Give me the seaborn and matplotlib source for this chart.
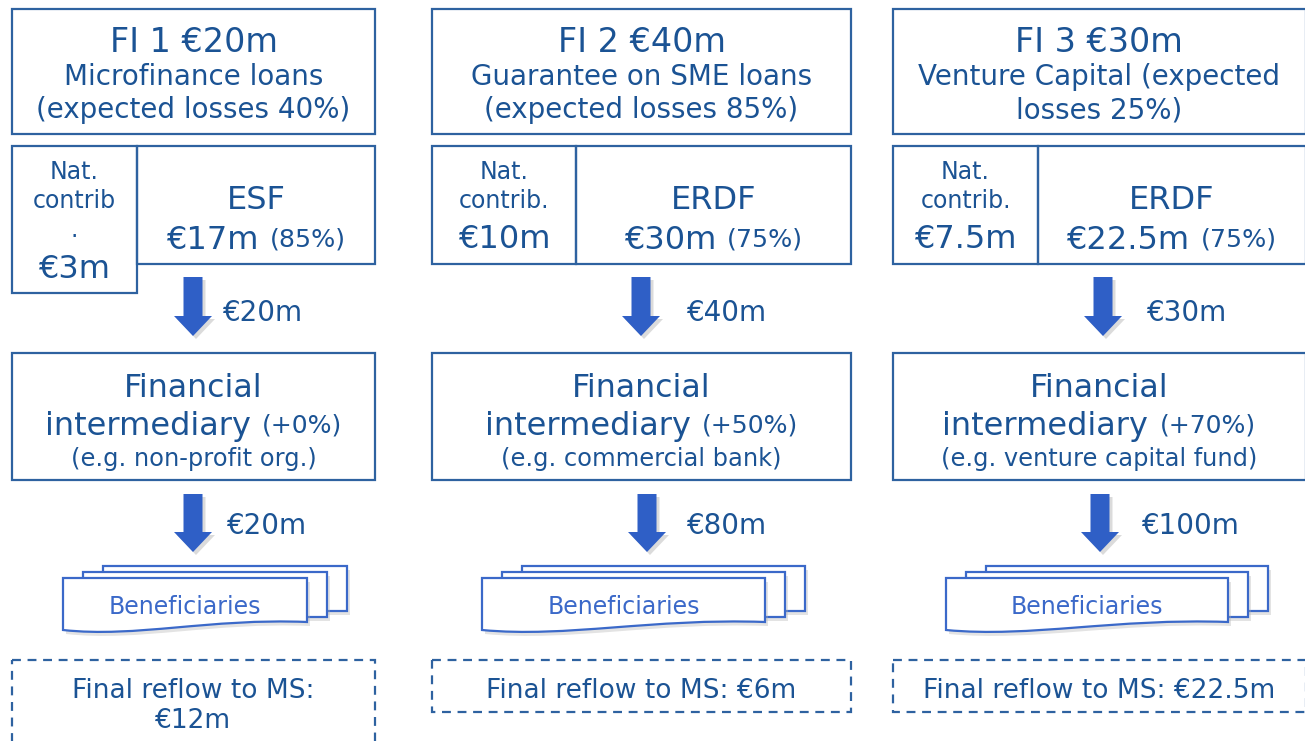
import numpy as np
import seaborn as sns
import matplotlib.pyplot as plt
from matplotlib.patches import Rectangle, FancyArrow, PathPatch
from matplotlib.path import Path

# content of the three columns
fi_titles = ['FI 1 €20m', 'FI 2 €40m', 'FI 3 €30m']
fi_types = ['Microfinance loans\n(expected losses 40%)',
            'Guarantee on SME loans\n(expected losses 85%)',
            'Venture Capital (expected\nlosses 25%)']
nat_labels = [['Nat.', 'contrib', '.'], ['Nat.', 'contrib.'], ['Nat.', 'contrib.']]
nat_amounts = ['€3m', '€10m', '€7.5m']
fund_names = ['ESF', 'ERDF', 'ERDF']
fund_amounts = ['€17m', '€30m', '€22.5m']
fund_shares = ['(85%)', '(75%)', '(75%)']
flow_to_fi = ['€20m', '€40m', '€30m']
fi_leverage = ['(+0%)', '(+50%)', '(+70%)']
fi_examples = ['(e.g. non-profit org.)', '(e.g. commercial bank)', '(e.g. venture capital fund)']
flow_to_benef = ['€20m', '€80m', '€100m']
reflow = [['Final reflow to MS:', '€12m'], ['Final reflow to MS: €6m'], ['Final reflow to MS: €22.5m']]

# layout (pixels)
col_left = [12, 432, 893]
col_right = [375, 851, 1306]
nat_split = [137, 576, 1038]
arrow1_x = [193, 641, 1103]
arrow2_x = [193, 647, 1100]
label1_x = [223, 687, 1147]
label2_x = [227, 687, 1142]
benef_left = [63, 482, 946]
benef_w = [244, 283, 282]
reflow_bottom = [745, 712, 712]

TXT = '#1b5394'
EDGE = '#2e62a0'
ARROW = '#2f5fc6'
BEN = '#3b69c9'

sns.set_theme(style='white')
plt.rcParams['font.family'] = ['DejaVu Sans']

fig = plt.figure(figsize=(13.05, 7.41), dpi=100)
ax = fig.add_axes([0, 0, 1, 1])
ax.set_xlim(0, 1305)
ax.set_ylim(741, 0)
ax.axis('off')


def line(x, yc, s, size, color=TXT, ha='center'):
    # place text so that the capitals are centred on yc
    return ax.text(x, yc + 0.365 * size * 1.389, s, size=size, color=color,
                   ha=ha, va='baseline')


def box(x0, y0, x1, y1, ls='-'):
    ax.add_patch(Rectangle((x0, y0), x1 - x0, y1 - y0, fill=False, ec=EDGE,
                           lw=1.6, ls=ls))


fig.canvas.draw()
renderer = fig.canvas.get_renderer()


def pair(xc, yc, a, sa, b, sb, gap=11):
    t1 = line(0, yc, a, sa, ha='left')
    t2 = line(0, yc, b, sb, ha='left')
    w1 = t1.get_window_extent(renderer).width
    w2 = t2.get_window_extent(renderer).width
    x0 = xc - (w1 + gap + w2) / 2
    t1.set_x(x0)
    t2.set_x(x0 + w1 + gap)


def arrow(x, y0, y1):
    for dx, dy, c, a in [(3, 3, '#9a9a9a', 0.35), (0, 0, ARROW, 1)]:
        ax.add_patch(FancyArrow(x + dx, y0 + dy, 0, y1 - y0, width=19, head_width=38,
                                head_length=20, length_includes_head=True,
                                fc=c, ec='none', alpha=a))


def sheet(x0, yt, w, h, wavy=False):
    x1 = x0 + w
    if wavy:
        verts = [(x0, yt), (x1, yt), (x1, yt + h - 10),
                 (x0 + 0.6 * w, yt + h - 14), (x0 + 0.3 * w, yt + h + 6), (x0, yt + h - 2),
                 (x0, yt)]
        codes = [Path.MOVETO, Path.LINETO, Path.LINETO,
                 Path.CURVE4, Path.CURVE4, Path.CURVE4, Path.CLOSEPOLY]
    else:
        verts = [(x0, yt), (x1, yt), (x1, yt + h), (x0, yt + h), (x0, yt)]
        codes = [Path.MOVETO, Path.LINETO, Path.LINETO, Path.LINETO, Path.CLOSEPOLY]
    shadow = PathPatch(Path(np.array(verts) + [3, 4], codes), fc='#b0b0b0', ec='none', alpha=0.35)
    ax.add_patch(shadow)
    ax.add_patch(PathPatch(Path(verts, codes), fc='white', ec=BEN, lw=1.6))


for i in range(3):
    l, r, s = col_left[i], col_right[i], nat_split[i]
    cx = (l + min(r, 1305)) / 2

    # FI header
    box(l, 9, r, 134)
    line(cx, 40, fi_titles[i], 24)
    for k, t in enumerate(fi_types[i].split('\n')):
        line(cx, 75 + 33 * k, t, 20)

    # contributions
    nat_bottom = 293 if i == 0 else 264
    box(l, 146, s, nat_bottom)
    box(s, 146, r, 264)
    nx = (l + s) / 2
    for k, t in enumerate(nat_labels[i]):
        line(nx, 170 + 29 * k, t, 17)
    line(nx, 266 if i == 0 else 236, nat_amounts[i], 23)
    fx = (s + min(r, 1305)) / 2
    line(fx, 197, fund_names[i], 23)
    pair(fx, 237, fund_amounts[i], 23, fund_shares[i], 18.3)

    # flow to FI
    arrow(arrow1_x[i], 277, 336)
    line(label1_x[i], 311, flow_to_fi[i], 20, ha='left')

    # financial intermediary
    box(l, 353, r, 480)
    line(cx, 385, 'Financial', 22.7)
    pair(cx, 423, 'intermediary', 23, fi_leverage[i], 18.1)
    line(cx, 457, fi_examples[i], 17.4)

    # flow to beneficiaries
    arrow(arrow2_x[i], 494, 552)
    line(label2_x[i], 524, flow_to_benef[i], 20, ha='left')

    bl, bw = benef_left[i], benef_w[i]
    sheet(bl + 40, 566, bw, 45)
    sheet(bl + 20, 572, bw, 45)
    sheet(bl, 578, bw, 54, wavy=True)
    line(bl + bw / 2, 605, 'Beneficiaries', 17, color=BEN)

    # final reflow
    box(l, 660, r, reflow_bottom[i], ls=(0, (4, 3)))
    for k, t in enumerate(reflow[i]):
        line(cx, 688 + 30 * k, t, 19)

fig.savefig('out.png', dpi=100)
